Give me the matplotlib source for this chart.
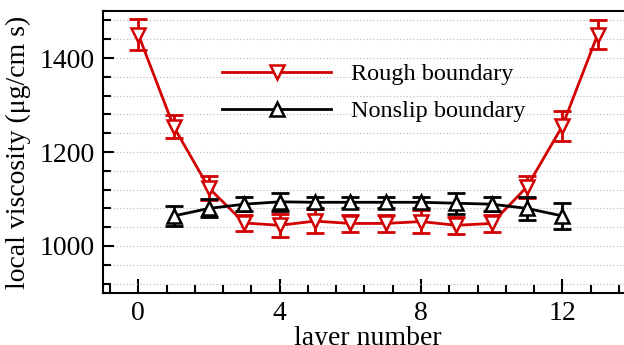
import matplotlib
matplotlib.use("Agg")
import matplotlib.pyplot as plt
from matplotlib.ticker import MultipleLocator

plt.rcParams['font.family'] = ['Liberation Serif', 'DejaVu Serif']

# Rough boundary: layers 0..13
rough_layer = [0, 1, 2, 3, 4, 5, 6, 7, 8, 9, 10, 11, 12, 13]
rough_visc = [1450, 1254, 1123, 1049, 1044, 1053, 1048, 1048, 1052, 1044, 1048, 1126, 1255, 1450]
rough_err = [32, 25, 25, 18, 25, 26, 18, 18, 25, 18, 19, 24, 32, 31]

# Nonslip boundary: layers 1..12
nonslip_layer = [1, 2, 3, 4, 5, 6, 7, 8, 9, 10, 11, 12]
nonslip_visc = [1064, 1080, 1089, 1094, 1093, 1093, 1093, 1093, 1091, 1089, 1080, 1064]
nonslip_err = [21, 19, 15, 19, 12, 12, 12, 12, 22, 15, 25, 28]

RED = '#d20000'

W, H = 624, 345
fig = plt.figure(figsize=(W / 100, H / 100), dpi=100)
ax = fig.add_axes([103 / W, (H - 293) / H, (633 - 103) / W, (293 - 11) / H])

bar_style = dict(lw=2.0, elinewidth=2.0, capsize=6.5, capthick=2.0)
mark_style = dict(ms=9.5, mfc='white', mew=1.8)

ax.errorbar(rough_layer, rough_visc, yerr=rough_err, color=RED, ecolor=RED,
            zorder=3, **bar_style)
ax.plot(rough_layer, rough_visc, ls='none', marker='v', mec=RED, zorder=4, **mark_style)
ax.errorbar(nonslip_layer, nonslip_visc, yerr=nonslip_err, color='black', ecolor='black',
            zorder=5, **bar_style)
ax.plot(nonslip_layer, nonslip_visc, ls='none', marker='^', mec='black', zorder=6, **mark_style)

# legend proxies
h1, = ax.plot([], [], color=RED, lw=2, marker='v', mec=RED, **mark_style)
h2, = ax.plot([], [], color='black', lw=2, marker='^', mec='black', **mark_style)
fig.legend([h1, h2], ['Rough boundary', 'Nonslip boundary'],
           loc='upper left', bbox_to_anchor=(222 / W, 1 - 63 / H),
           bbox_transform=fig.transFigure, frameon=False, fontsize=17.5,
           handlelength=4.5, handletextpad=0.8, labelspacing=0.62,
           borderpad=0, borderaxespad=0, numpoints=1)

ax.set_xlim(-1, 14)
ax.set_ylim(900, 1500)
ax.xaxis.set_major_locator(MultipleLocator(4))
ax.xaxis.set_minor_locator(MultipleLocator(0.8))
ax.yaxis.set_major_locator(MultipleLocator(200))
ax.yaxis.set_minor_locator(MultipleLocator(40))

ax.grid(True, which='both', axis='y', color='#b8b8b8', ls=(0, (1, 2)), lw=0.8)
ax.set_axisbelow(True)

ax.tick_params(which='both', direction='in', top=False, right=False, width=1.5)
ax.tick_params(which='major', length=10, labelsize=20, pad=6)
ax.tick_params(axis='y', which='major', length=8)
ax.tick_params(which='minor', length=6)
for s in ax.spines.values():
    s.set_linewidth(1.5)
ax.spines['right'].set_visible(False)

ax.set_xlabel('layer number', fontsize=20, labelpad=0)
ax.set_ylabel('local viscosity (μg/cm s)', fontsize=20, labelpad=6)

fig.savefig('out.png', dpi=100)
